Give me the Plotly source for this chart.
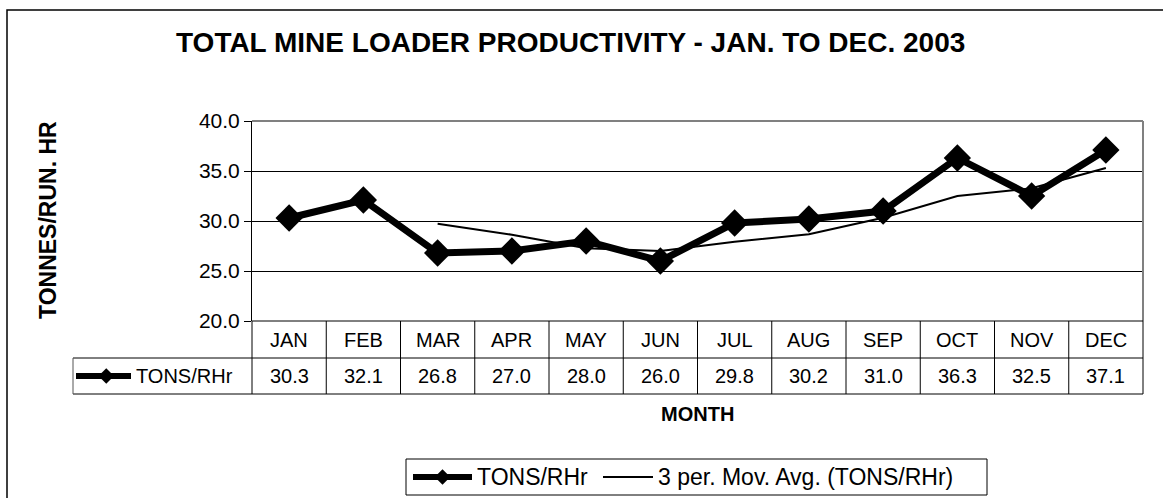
import plotly.graph_objects as go

# ---- data ----
months = ["JAN", "FEB", "MAR", "APR", "MAY", "JUN", "JUL", "AUG", "SEP", "OCT", "NOV", "DEC"]
tons_rhr = [30.3, 32.1, 26.8, 27.0, 28.0, 26.0, 29.8, 30.2, 31.0, 36.3, 32.5, 37.1]
mov_avg = [None, None, 29.73, 28.63, 27.27, 27.0, 27.93, 28.67, 30.33, 32.5, 33.27, 35.3]
y_ticks = [20, 25, 30, 35, 40]
y_tick_labels = ["20.0", "25.0", "30.0", "35.0", "40.0"]
series_name = "TONS/RHr"
trend_name = "3 per. Mov. Avg. (TONS/RHr)"

# ---- layout geometry (pixels) ----
W, H = 1163, 498
def px(x): return x / W
def py(y): return 1 - y / H

PL, PR, PT, PB = 252, 1143, 121, 321
ROW1_B, ROW2_B = 358, 394
KEY_L = 73
LEG_L, LEG_R, LEG_T, LEG_B = 406, 987, 459, 495
FONT = "Liberation Sans, Arial, sans-serif"

fig = go.Figure()
fig.add_trace(go.Scatter(
    x=months, y=tons_rhr, mode="lines+markers", name=series_name,
    line=dict(color="black", width=7),
    marker=dict(symbol="diamond", size=21, color="black"),
    cliponaxis=False, showlegend=False,
))
fig.add_trace(go.Scatter(
    x=months, y=mov_avg, mode="lines", name=trend_name,
    line=dict(color="black", width=2), showlegend=False,
))

# small key axes: table key (x2/y2), legend keys (x3/y3, x4/y4)
def key_line(xa, ya, width):
    fig.add_trace(go.Scatter(x=[0, 1], y=[0.5, 0.5], mode="lines", xaxis=xa, yaxis=ya,
                             line=dict(color="black", width=width), showlegend=False, hoverinfo="skip"))
def key_marker(xa, ya, pos, size):
    fig.add_trace(go.Scatter(x=[pos], y=[0.5], mode="markers", xaxis=xa, yaxis=ya,
                             marker=dict(symbol="diamond", size=size, color="black"),
                             showlegend=False, hoverinfo="skip", cliponaxis=False))
key_line("x2", "y2", 6)
key_marker("x2", "y2", 0.55, 12)
key_line("x3", "y3", 6)
key_marker("x3", "y3", 0.5, 12)
key_line("x4", "y4", 2)

shapes = []
line_k = dict(color="black", width=1)
# plot area top/right border (gray)
shapes.append(dict(type="line", xref="paper", yref="paper", x0=px(PL), x1=px(PR), y0=py(PT), y1=py(PT),
                   line=dict(color="#808080", width=2)))
shapes.append(dict(type="line", xref="paper", yref="paper", x0=px(PR), x1=px(PR), y0=py(PT), y1=py(PB),
                   line=dict(color="#808080", width=2)))
# table horizontals
shapes.append(dict(type="line", xref="paper", yref="paper", x0=px(PL), x1=px(PR), y0=py(PB), y1=py(PB), line=line_k))
shapes.append(dict(type="line", xref="paper", yref="paper", x0=px(KEY_L), x1=px(PR), y0=py(ROW1_B), y1=py(ROW1_B), line=line_k))
shapes.append(dict(type="line", xref="paper", yref="paper", x0=px(KEY_L), x1=px(PR), y0=py(ROW2_B), y1=py(ROW2_B), line=line_k))
# table verticals (column borders follow the category axis domain)
for i in range(len(months) + 1):
    shapes.append(dict(type="line", xref="x domain", yref="paper", x0=i / len(months), x1=i / len(months),
                       y0=py(PB), y1=py(ROW2_B), line=line_k))
shapes.append(dict(type="line", xref="paper", yref="paper", x0=px(KEY_L), x1=px(KEY_L),
                   y0=py(ROW1_B), y1=py(ROW2_B), line=dict(color="#555555", width=1)))
# legend box
shapes.append(dict(type="rect", xref="paper", yref="paper", x0=px(LEG_L), x1=px(LEG_R), y0=py(LEG_T), y1=py(LEG_B),
                   line=dict(color="black", width=1), fillcolor="rgba(0,0,0,0)"))
# outer chart border
shapes.append(dict(type="rect", xref="paper", yref="paper", x0=px(7), x1=px(1180), y0=py(10), y1=py(520),
                   line=dict(color="black", width=1.5), fillcolor="rgba(0,0,0,0)"))

annotations = []
TBL = 20
for m, v in zip(months, tons_rhr):
    annotations.append(dict(x=m, xref="x", y=py((PB + ROW1_B) / 2), yref="paper", text=m, showarrow=False,
                            font=dict(size=TBL, color="black", family=FONT), xanchor="center", yanchor="middle"))
    annotations.append(dict(x=m, xref="x", y=py((ROW1_B + ROW2_B) / 2), yref="paper", text=f"{v:.1f}",
                            showarrow=False, font=dict(size=TBL, color="black", family=FONT),
                            xanchor="center", yanchor="middle"))
annotations.append(dict(x=px(134), y=py((ROW1_B + ROW2_B) / 2), xref="paper", yref="paper", text=series_name,
                        showarrow=False, xanchor="left", yanchor="middle",
                        font=dict(size=TBL, color="black", family=FONT)))
# legend texts
annotations.append(dict(x=px(475), y=py((LEG_T + LEG_B) / 2), xref="paper", yref="paper", text=series_name,
                        showarrow=False, xanchor="left", yanchor="middle",
                        font=dict(size=23, color="black", family=FONT)))
annotations.append(dict(x=px(656), y=py((LEG_T + LEG_B) / 2), xref="paper", yref="paper", text=trend_name,
                        showarrow=False, xanchor="left", yanchor="middle",
                        font=dict(size=23, color="black", family=FONT)))
annotations.append(dict(x=px(570), y=py(43), xref="paper", yref="paper",
                        text="<b>TOTAL MINE LOADER PRODUCTIVITY - JAN. TO DEC. 2003</b>", showarrow=False,
                        xanchor="center", yanchor="middle", font=dict(size=28, color="black", family=FONT)))
annotations.append(dict(x=px(697), y=py(414), xref="paper", yref="paper", text="<b>MONTH</b>", showarrow=False,
                        xanchor="center", yanchor="middle", font=dict(size=20, color="black", family=FONT)))
annotations.append(dict(x=px(48), y=py(220), xref="paper", yref="paper", text="<b>TONNES/RUN. HR</b>",
                        showarrow=False, textangle=-90, xanchor="center", yanchor="middle",
                        font=dict(size=23, color="black", family=FONT)))

hidden = dict(range=[0, 1], visible=False, fixedrange=True)
fig.update_layout(
    width=W, height=H,
    margin=dict(l=0, r=0, t=0, b=0, pad=0),
    paper_bgcolor="white", plot_bgcolor="white",
    font=dict(family=FONT, color="black"),
    showlegend=False,
    xaxis=dict(domain=[px(PL), px(PR)], range=[-0.5, len(months) - 0.5], showticklabels=False,
               showgrid=False, zeroline=False, showline=False, ticks="", automargin=False, fixedrange=True),
    yaxis=dict(domain=[py(PB), py(PT)], range=[20, 40], tickvals=y_ticks, ticktext=y_tick_labels,
               ticks="outside", ticklen=7, tickcolor="black", tickwidth=1,
               showline=True, linecolor="black", linewidth=1,
               showgrid=True, gridcolor="black", gridwidth=1, zeroline=False,
               tickfont=dict(size=21, color="black", family=FONT), automargin=False, fixedrange=True),
    xaxis2=dict(domain=[px(76), px(131)], anchor="y2", **hidden),
    yaxis2=dict(domain=[py(ROW2_B), py(ROW1_B)], anchor="x2", **hidden),
    xaxis3=dict(domain=[px(413), px(472)], anchor="y3", **hidden),
    yaxis3=dict(domain=[py(LEG_B), py(LEG_T)], anchor="x3", **hidden),
    xaxis4=dict(domain=[px(603), px(653)], anchor="y4", **hidden),
    yaxis4=dict(domain=[py(LEG_B), py(LEG_T)], anchor="x4", **hidden),
    shapes=shapes, annotations=annotations,
)

fig.write_html("out.html", config={"displayModeBar": False},
               post_script="document.body.style.margin='0';document.body.style.overflow='hidden';")
